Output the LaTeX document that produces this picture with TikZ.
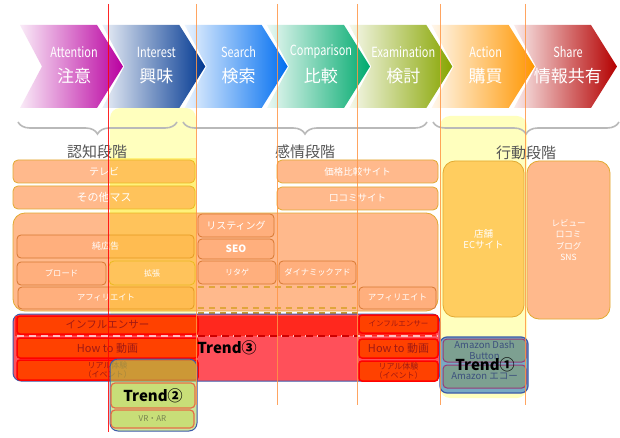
\documentclass[tikz,border=0pt]{standalone}
\usepackage{fontspec}
\setmainfont{Noto Sans CJK JP}
\usepackage{graphicx}
\usetikzlibrary{decorations.pathreplacing}
\definecolor{cAtt}{RGB}{185,0,160}
\definecolor{cInt}{RGB}{0,55,145}
\definecolor{cSea}{RGB}{0,110,240}
\definecolor{cCmp}{RGB}{0,170,110}
\definecolor{cExa}{RGB}{135,165,0}
\definecolor{cAct}{RGB}{255,150,0}
\definecolor{cSha}{RGB}{180,0,0}
\definecolor{paleY}{RGB}{255,255,190}
\definecolor{overY}{RGB}{255,215,0}
\definecolor{salmon}{RGB}{255,185,140}
\definecolor{salmonIn}{RGB}{255,175,125}
\definecolor{gold}{RGB}{225,170,50}
\definecolor{dashG}{RGB}{225,165,60}
\definecolor{innerB}{RGB}{215,120,50}
\definecolor{storeF}{RGB}{255,205,95}
\definecolor{redBand}{RGB}{255,40,30}
\definecolor{redBg}{RGB}{255,80,90}
\definecolor{redBox}{RGB}{255,65,0}
\definecolor{redTxt}{RGB}{160,25,20}
\definecolor{redDash}{RGB}{205,0,0}
\definecolor{blueB}{RGB}{60,90,170}
\definecolor{t2fill}{RGB}{170,210,90}
\definecolor{t2box}{RGB}{200,222,120}
\definecolor{t2brd}{RGB}{230,110,70}
\definecolor{t2txt}{RGB}{120,130,80}
\definecolor{t1fill}{RGB}{120,170,195}
\definecolor{t1box}{RGB}{125,160,145}
\definecolor{t1brd}{RGB}{150,60,120}
\definecolor{t1txt}{RGB}{60,80,125}
\definecolor{vline}{RGB}{255,150,70}
\definecolor{braceC}{RGB}{185,185,185}
\definecolor{phaseC}{RGB}{85,85,85}
\newcommand\fsz[2]{\fontsize{#1}{#2}\selectfont}
\begin{document}
\begin{tikzpicture}[x=1pt,y=-1pt,
  box/.style={rectangle, inner sep=0pt, outer sep=0pt},
  wh/.style 2 args={minimum width=#1pt, minimum height=#2pt},
  obox/.style={box, fill=salmon, draw=gold, line width=0.8pt, rounded corners=5pt},
  ibox/.style={box, fill=salmonIn, draw=innerB, line width=0.8pt, rounded corners=4pt},
  wtxt/.style={text=white, inner sep=0pt, align=center},
  rbox/.style={box, fill=redBox, draw=red, line width=1.5pt, rounded corners=3pt, text=redTxt, align=center},
  chev/.style={text=white, inner sep=0pt},
  phase/.style={text=phaseC, font=\fsz{15}{17}, inner sep=0pt},
  brc/.style={draw=braceC, line width=1.6pt, decorate, decoration={brace, mirror, amplitude=12pt}},
  gdash/.style={draw=dashG, line width=2pt, dash pattern=on 6pt off 5pt},
  trend/.style={font=\bfseries\fsz{15}{17}, text=black, inner sep=0pt},
  t1b/.style={box, fill=t1box, draw=t1brd, line width=1pt, rounded corners=4pt, text=t1txt, align=center},
  t2b/.style={box, fill=t2box, draw=t2brd, line width=1.2pt, rounded corners=4pt}
]
\useasboundingbox (0,0) rectangle (620,438);
\fill[white] (0,0) rectangle (620,438);

% yellow highlight columns
\fill[paleY, rounded corners=10pt] (110,108) rectangle (196,320);
\fill[paleY, rounded corners=10pt] (440,116) rectangle (527,398);

% chevrons
\foreach \i/\col/\en/\jp in {0/cAtt/Attention/注意, 1/cInt/Interest/興味, 2/cSea/Search/検索, 3/cCmp/Comparison/比較, 4/cExa/Examination/検討, 5/cAct/Action/購買, 6/cSha/Share/情報共有}{
  \pgfmathsetmacro\t{123+82.33*\i}
  \shade[left color=\col!8, middle color=\col!97, right color=\col]
    (\t-103,25) -- (\t-26,25) -- (\t,66.5) -- (\t-26,108) -- (\t-103,108) -- (\t-81,66.5) -- cycle;
  \node[chev, font=\fsz{14}{16}] (en\i) at (\t-49,52) {\scalebox{0.78}[1]{\en}};
  \node[chev, font=\fsz{17}{19}] (jp\i) at (\t-49,76) {\jp};
}

% braces and phase labels
\draw[brc] (18,122) -- (177,122);
\draw[brc] (183,122) -- (427,122);
\draw[brc] (433,122) -- (619,122);
\node[phase] (ph1) at (97,152) {認知段階};
\node[phase] (ph2) at (305,152) {感情段階};
\node[phase] (ph3) at (526,153) {行動段階};

% orange boxes
\node[obox, wh={182}{23}] (tv) at (104,171.5) {};
\node[obox, wh={182}{23}] (mass) at (104,197.5) {};
\node[obox, wh={161}{23}] (price) at (357.5,171.5) {};
\node[obox, wh={161}{23}] (kuchi) at (357.5,198.5) {};
\node[obox, rounded corners=12pt, wh={425}{98}] (cont) at (225.5,262) {};
\node[ibox, wh={177}{23}] (jun) at (105.5,246.5) {};
\node[ibox, wh={89}{23}] (broad) at (61.5,273.5) {};
\node[obox, wh={86}{24}] (kaku) at (152,273) {};
\node[ibox, wh={176}{22}] (affL) at (106,298) {};
\node[ibox, wh={76}{23}] (list) at (236,225.5) {};
\node[ibox, wh={76}{20}] (seo) at (236,249) {};
\node[ibox, wh={78}{23}] (ritage) at (237,272.5) {};
\node[ibox, wh={77}{23}] (dyn) at (317.5,272.5) {};
\node[ibox, wh={77}{22}] (affR) at (397.5,298) {};
\draw[gdash] (198,287) -- (356,287);
\draw[gdash] (198,308) -- (356,308);

% yellow tint over boxes in column 1
\fill[overY, fill opacity=0.35] (110,158) rectangle (196,311);

% texts of orange boxes
\node[wtxt, font=\fsz{10}{12}] at (tv) {テレビ};
\node[wtxt, font=\fsz{11}{13}] at (mass) {その他マス};
\node[wtxt, font=\fsz{9.5}{11}] at (price) {価格比較サイト};
\node[wtxt, font=\fsz{9.5}{11}] at (kuchi) {口コミサイト};
\node[wtxt, font=\fsz{9}{11}] at (jun) {純広告};
\node[wtxt, font=\fsz{8.3}{10}] at (broad) {ブロード};
\node[wtxt, font=\fsz{8}{10}] at (kaku) {拡張};
\node[wtxt, font=\fsz{8.3}{10}] at (affL) {アフィリエイト};
\node[wtxt, font=\fsz{10}{12}] at (list) {リスティング};
\node[wtxt, font=\bfseries\fsz{10}{12}] at (seo) {SEO};
\node[wtxt, font=\fsz{8}{10}] at (ritage) {リタゲ};
\node[wtxt, font=\fsz{8.3}{10}] at (dyn) {ダイナミックアド};
\node[wtxt, font=\fsz{8.5}{10}] at (affR) {アフィリエイト};

% action / share boxes
\node[box, fill=storeF, draw=gold, line width=0.8pt, rounded corners=12pt, wh={81}{156}, text=white, font=\fsz{9.5}{11}, align=center] (store) at (483.5,239) {店舗\\ECサイト};
\node[box, fill=salmon, draw=gold, line width=0.8pt, rounded corners=12pt, wh={83}{158}, text=white, font=\fsz{8.5}{11.5}, align=center] (review) at (568.5,240) {レビュー\\口コミ\\ブログ\\SNS};

% red region
\draw[gdash, draw=gold!90!black] (198,312.5) -- (358,312.5);
\node[box, fill=redBg, draw=blueB, line width=1pt, rounded corners=8pt, wh={427}{67}] (redreg) at (226.5,347.5) {};
\fill[redBand] (15,316) rectangle (436,336);
\draw[draw={rgb,255:red,255;green,190;blue,190}, line width=1.5pt, dash pattern=on 7pt off 5pt] (17,336) -- (438,336);
\draw[draw=redDash, line width=1.5pt, dash pattern=on 7pt off 5pt] (198,336) -- (358,336);
\node[rbox, wh={181}{18}, font=\fsz{10.5}{12}] (infL) at (107.5,325) {インフルエンサー};
\node[rbox, wh={181}{20}, font=\fsz{11}{13}] (howL) at (107.5,348) {How to 動画};
\node[rbox, wh={181}{20}, font=\fsz{8}{9.5}] (realL) at (107.5,370) {リアル体験\\（イベント）};
\node[rbox, wh={79}{18}, font=\fsz{7.5}{9}] (infR) at (398.5,324) {インフルエンサー};
\node[rbox, wh={79}{19}, font=\fsz{11}{13}] (howR) at (398.5,348.5) {How to 動画};
\node[rbox, wh={79}{20}, font=\fsz{8}{9.5}] (realR) at (398.5,371) {リアル体験\\（イベント）};
\node[trend] (tr3) at (227,348) {Trend③};

% Trend 1
\node[box, fill=t1fill, draw=blueB, line width=1.2pt, rounded corners=7pt, wh={88}{56}] (t1) at (484,365) {};
\node[t1b, wh={83}{23}, font=\fsz{9.5}{11}] (dashbtn) at (484.5,350.5) {Amazon Dash\\Button};
\node[t1b, wh={83}{23}, font=\fsz{9.5}{11}] (echo) at (484.5,376.5) {Amazon エコー};
\node[trend] (tr1) at (485,365) {Trend①};

% Trend 2
\node[box, fill=t2fill, fill opacity=0.6, draw=blueB, line width=1pt, rounded corners=8pt, wh={87}{72}] (t2) at (153.5,395) {};
\node[t2b, wh={84}{25}, font=\bfseries\fsz{15}{17}] (tr2) at (153,395.5) {Trend②};
\node[t2b, wh={83}{18}, text=t2txt, font=\fsz{8}{9}] (vrar) at (152.5,419) {VR・AR};

% vertical guide lines
\foreach \x in {196,277,357,440,525}
  \draw[vline, line width=0.9pt, opacity=0.85] (\x,4) -- (\x,405);
\draw[red, line width=1pt, opacity=0.85] (108,4) -- (108,432);
\end{tikzpicture}
\end{document}
